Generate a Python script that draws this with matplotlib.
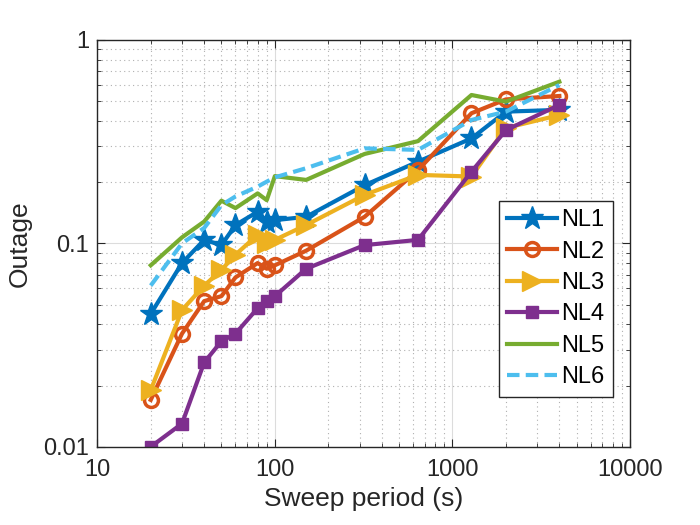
import matplotlib
matplotlib.use('Agg')
import matplotlib.pyplot as plt
from matplotlib.ticker import FixedLocator, FixedFormatter, LogLocator, NullFormatter

plt.rcParams['font.family'] = ['Liberation Sans', 'DejaVu Sans']

# Sweep periods (s)
period = [20, 30, 40, 50, 60, 80, 90, 100, 150, 320, 640, 1280, 2000, 4000]

# Outage for each network load
nl1 = [0.045, 0.080, 0.104, 0.098, 0.123, 0.143, 0.128, 0.130, 0.135, 0.193, 0.252, 0.328, 0.444, 0.453]
nl2 = [0.017, 0.036, 0.052, 0.055, 0.068, 0.080, 0.075, 0.078, 0.092, 0.135, 0.229, 0.436, 0.510, 0.530]
nl3 = [0.019, 0.047, 0.062, 0.074, 0.088, 0.110, 0.100, 0.104, 0.123, 0.173, 0.217, 0.213, 0.369, 0.427]
nl4 = [0.010, 0.013, 0.026, 0.033, 0.036, 0.048, 0.052, 0.055, 0.075, 0.098, 0.104, 0.225, 0.360, 0.479]
nl5 = [0.078, 0.107, 0.128, 0.162, 0.149, 0.176, 0.163, 0.214, 0.205, 0.275, 0.318, 0.536, 0.497, 0.623]
nl6 = [0.062, 0.100, 0.119, 0.154, 0.170, 0.190, 0.201, 0.211, 0.234, 0.293, 0.288, 0.404, 0.444, 0.600]

labels = ['NL1', 'NL2', 'NL3', 'NL4', 'NL5', 'NL6']

fig = plt.figure(figsize=(7, 5.25), dpi=100)
ax = fig.add_axes([0.139, 0.149, 0.761, 0.775])

lw = 3
ax.plot(period, nl1, color='#0072BD', lw=lw, marker='*', ms=17, label=labels[0])
ax.plot(period, nl2, color='#D95319', lw=lw, marker='o', ms=10, mfc='none', mew=2.5, label=labels[1])
ax.plot(period, nl3, color='#EDB120', lw=lw, marker='>', ms=14, label=labels[2])
ax.plot(period, nl4, color='#7E2F8E', lw=lw, marker='s', ms=8, label=labels[3])
ax.plot(period, nl5, color='#77AC30', lw=lw, label=labels[4])
ax.plot(period, nl6, color='#4DBEEE', lw=lw, ls=(0, (3, 1.5)), label=labels[5])

ax.set_xscale('log')
ax.set_yscale('log')
ax.set_xlim(10, 10000)
ax.set_ylim(0.01, 1)

ax.xaxis.set_major_locator(FixedLocator([10, 100, 1000, 10000]))
ax.xaxis.set_major_formatter(FixedFormatter(['10', '100', '1000', '10000']))
ax.yaxis.set_major_locator(FixedLocator([0.01, 0.1, 1]))
ax.yaxis.set_major_formatter(FixedFormatter(['0.01', '0.1', '1']))
ax.xaxis.set_minor_locator(LogLocator(base=10, subs=range(2, 10)))
ax.yaxis.set_minor_locator(LogLocator(base=10, subs=range(2, 10)))
ax.xaxis.set_minor_formatter(NullFormatter())
ax.yaxis.set_minor_formatter(NullFormatter())

ax.grid(True, which='major', color='#dcdcdc', lw=0.8, ls='-')
ax.grid(True, which='minor', color='#b0b0b0', lw=0.8, ls=(0, (1, 3)))
ax.set_axisbelow(True)

ax.tick_params(which='both', direction='in', top=True, right=True, labelsize=17, colors='#262626')
ax.tick_params(which='major', length=6)
ax.tick_params(which='minor', length=3)
ax.tick_params(axis='x', which='major', pad=9)
ax.tick_params(axis='y', which='major', pad=6)
for sp in ax.spines.values():
    sp.set_color('#262626')
    sp.set_linewidth(1)

ax.set_xlabel('Sweep period (s)', fontsize=19, color='#262626', labelpad=4)
ax.set_ylabel('Outage', fontsize=19, color='#262626', labelpad=8)

leg = ax.legend(loc='center right', bbox_to_anchor=(0.968, 0.364), fontsize=17, frameon=True,
                fancybox=False, edgecolor='#262626', handlelength=2.1, borderpad=0.35,
                labelspacing=0.4, handletextpad=0.2, borderaxespad=0)
leg.get_frame().set_linewidth(1)
leg.get_frame().set_alpha(1)

fig.savefig('out.png', dpi=100)
